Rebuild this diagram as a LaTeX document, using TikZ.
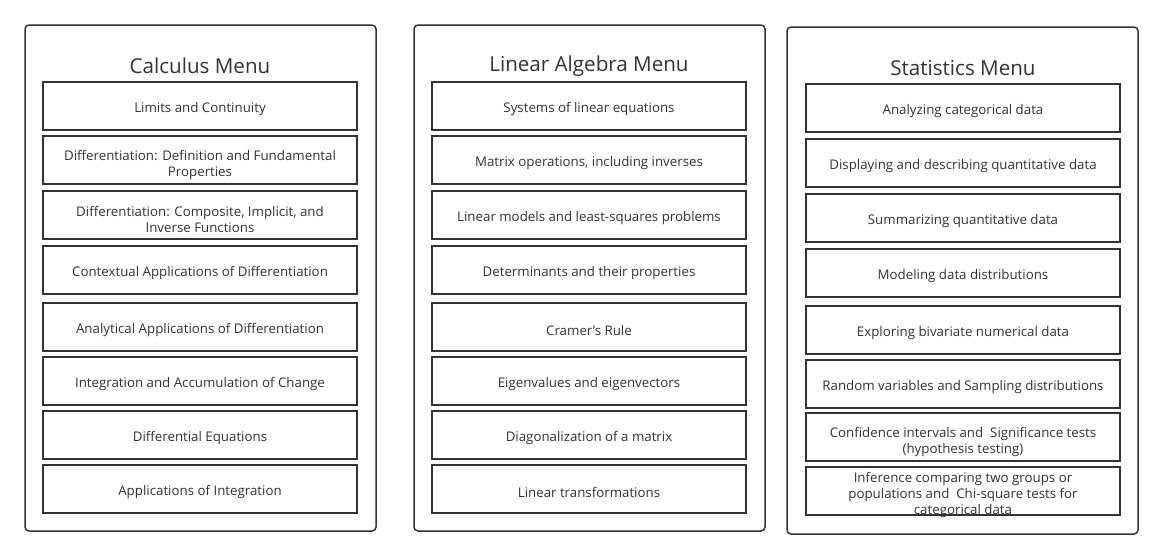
\documentclass[tikz,border=0pt]{standalone}
\usepackage{fontspec}
\setmainfont{Open Sans}
\usepackage{xcolor}
\usetikzlibrary{positioning}
\definecolor{ink}{HTML}{333333}

\tikzset{
  menu/.style={draw=ink,line width=1.5pt,rounded corners=4pt,minimum width=351pt,minimum height=506pt,inner sep=0pt},
  menutitle/.style={text=ink,font=\fontsize{20.6}{24}\selectfont,inner sep=0pt},
  topic/.style={draw=ink,line width=1.8pt,fill=white,align=center,text=ink,font=\fontsize{13.3}{16}\selectfont,minimum width=314pt,minimum height=48pt,inner sep=0pt,execute at begin node={\rule{0pt}{#1}}},
  topic/.default=17pt
}

\begin{document}
\begin{tikzpicture}[x=1pt,y=-1pt]
\useasboundingbox (0,0) rectangle (1163,558);
% calculus
\node[menu] (calc) at (200.5,278) {};
\node[menutitle] (calct) at (200,66) {Calculus Menu};
\node[topic] (c1) at (200,106) {Limits and Continuity};
\node[topic=36pt] (c2) at (200,160) {Differentiation: Definition and Fundamental\\Properties};
\node[topic=36pt] (c3) at (200,215) {Differentiation: Composite, Implicit, and\\Inverse Functions};
\node[topic] (c4) at (200,270) {Contextual Applications of Differentiation};
\node[topic] (c5) at (200,327) {Analytical Applications of Differentiation};
\node[topic] (c6) at (200,381) {Integration and Accumulation of Change};
\node[topic] (c7) at (200,435) {Differential Equations};
\node[topic] (c8) at (200,489) {Applications of Integration};
% linear algebra
\node[menu] (lin) at (589.5,278) {};
\node[menutitle] (lint) at (589,66) {Linear Algebra Menu};
\node[topic] (l1) at (589,106) {Systems of linear equations};
\node[topic] (l2) at (589,160) {Matrix operations, including inverses};
\node[topic] (l3) at (589,215) {Linear models and least-squares problems};
\node[topic] (l4) at (589,270) {Determinants and their properties};
\node[topic] (l5) at (589,327) {Cramer's Rule};
\node[topic] (l6) at (589,381) {Eigenvalues and eigenvectors};
\node[topic] (l7) at (589,435) {Diagonalization of a matrix};
\node[topic] (l8) at (589,489) {Linear transformations};
% statistics
\node[menu,minimum height=507pt] (stat) at (962.5,280.5) {};
\node[menutitle] (statt) at (963,68) {Statistics Menu};
\node[topic] (s1) at (963,108) {Analyzing categorical data};
\node[topic] (s2) at (963,163) {Displaying and describing quantitative data};
\node[topic] (s3) at (963,218) {Summarizing quantitative data};
\node[topic] (s4) at (963,273) {Modeling data distributions};
\node[topic] (s5) at (963,330) {Exploring bivariate numerical data};
\node[topic] (s6) at (963,384) {Random variables and Sampling distributions};
\node[topic=36pt] (s7) at (963,437) {Confidence intervals and\ \ Significance tests\\(hypothesis testing)};
\node[topic=46pt,text depth=0pt] (s8) at (963,491) {Inference comparing two groups or\\populations and\ \ Chi-square tests for\\categorical data};
\end{tikzpicture}
\end{document}
